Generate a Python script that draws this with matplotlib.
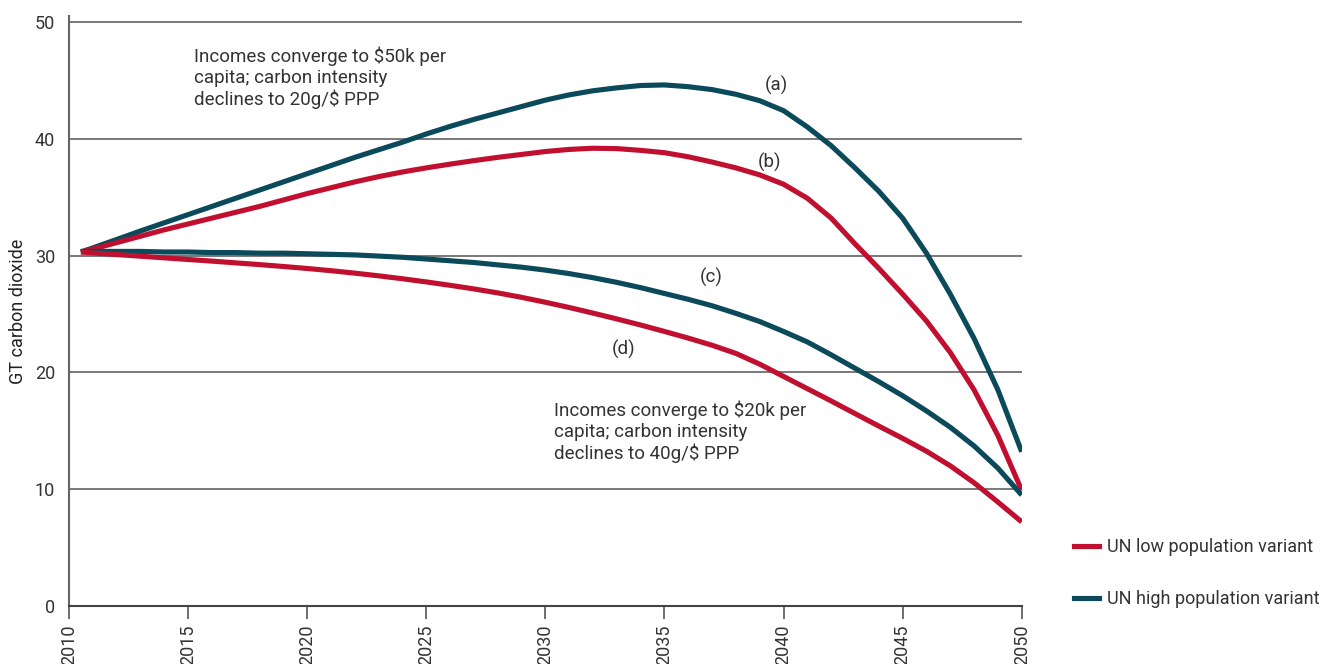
import matplotlib.pyplot as plt
from matplotlib.lines import Line2D

plt.rcParams['font.family'] = ['Roboto', 'DejaVu Sans']

red = '#c1102f'
teal = '#0b4a5a'

years = [2010.5] + list(range(2011, 2051))

# (a) high population, $50k / 20g
a_high = [30.3,
          30.65, 31.37, 32.1, 32.8, 33.5, 34.2, 34.9, 35.6, 36.3, 37.0,
          37.7, 38.4, 39.05, 39.7, 40.4, 41.05, 41.65, 42.2, 42.75, 43.3,
          43.75, 44.1, 44.35, 44.55, 44.6, 44.45, 44.2, 43.8, 43.25, 42.4,
          41.0, 39.4, 37.5, 35.5, 33.2, 30.2, 26.7, 22.9, 18.5, 13.2]
# (b) low population, $50k / 20g
b_low = [30.3,
         30.55, 31.1, 31.65, 32.2, 32.7, 33.2, 33.7, 34.2, 34.75, 35.3,
         35.8, 36.3, 36.75, 37.15, 37.5, 37.82, 38.12, 38.4, 38.65, 38.9,
         39.08, 39.18, 39.15, 39.0, 38.8, 38.45, 38.0, 37.5, 36.9, 36.1,
         34.9, 33.2, 31.0, 28.9, 26.7, 24.4, 21.7, 18.5, 14.6, 9.9]
# (c) high population, $20k / 40g
c_high = [30.35,
          30.35, 30.35, 30.35, 30.3, 30.3, 30.25, 30.25, 30.2, 30.2, 30.15,
          30.1, 30.05, 29.95, 29.85, 29.7, 29.55, 29.4, 29.2, 29.0, 28.75,
          28.45, 28.1, 27.7, 27.25, 26.75, 26.25, 25.7, 25.05, 24.35, 23.5,
          22.6, 21.5, 20.35, 19.2, 18.0, 16.7, 15.3, 13.7, 11.8, 9.5]
# (d) low population, $20k / 40g
d_low = [30.3,
         30.22, 30.08, 29.94, 29.8, 29.66, 29.52, 29.37, 29.22, 29.06, 28.89,
         28.7, 28.49, 28.26, 28.01, 27.74, 27.45, 27.14, 26.8, 26.42, 26.0,
         25.55, 25.07, 24.57, 24.05, 23.5, 22.93, 22.32, 21.62, 20.7, 19.65,
         18.6, 17.55, 16.47, 15.4, 14.35, 13.25, 12.0, 10.55, 8.9, 7.2]

fig = plt.figure(figsize=(13.38, 6.64), dpi=100)
ax = fig.add_axes([69 / 1338, 58 / 664, 952.7 / 1338, 590 / 664])

lw = 3.7
for ys, c in [(a_high, teal), (b_low, red), (c_high, teal), (d_low, red)]:
    ax.plot(years, ys, color=c, lw=lw, solid_capstyle='butt',
            solid_joinstyle='round', zorder=3)

ax.set_xlim(2010, 2050)
ax.set_ylim(0, 50.5)
ax.set_xticks(range(2010, 2051, 5))
ax.set_yticks(range(0, 51, 10))
ax.tick_params(axis='x', length=9, width=1.2, color='#555555', direction='out',
               labelrotation=90, labelsize=13, labelcolor='#333333', pad=4)
ax.tick_params(axis='y', length=0, labelsize=13, labelcolor='#333333', pad=10)
for lab in ax.get_xticklabels():
    lab.set_verticalalignment('top')

for v in range(10, 51, 10):
    ax.axhline(v, color='#555555', lw=1.1, zorder=1)

for s in ['top', 'right']:
    ax.spines[s].set_visible(False)
ax.spines['left'].set_color('#666666')
ax.spines['left'].set_linewidth(1.5)
ax.spines['bottom'].set_color('#444444')
ax.spines['bottom'].set_linewidth(1.5)

ax.set_ylabel('GT carbon dioxide', fontsize=13, color='#222222', labelpad=6)

txt = dict(fontsize=13.5, color='#333333', linespacing=1.2)
ax.text(2015.26, 47.9, 'Incomes converge to $50k per\ncapita; carbon intensity\ndeclines to 20g/$ PPP',
        va='top', ha='left', **txt)
ax.text(2030.37, 17.6, 'Incomes converge to $20k per\ncapita; carbon intensity\ndeclines to 40g/$ PPP',
        va='top', ha='left', **txt)

ax.text(2039.7, 44.6, '(a)', ha='center', va='center', **txt)
ax.text(2039.4, 38.0, '(b)', ha='center', va='center', **txt)
ax.text(2036.95, 28.1, '(c)', ha='center', va='center', **txt)
ax.text(2033.3, 22.0, '(d)', ha='center', va='center', **txt)

handles = [Line2D([], [], color=red, lw=lw), Line2D([], [], color=teal, lw=lw)]
labels = ['UN low population variant', 'UN high population variant']
fig.legend(handles, labels, loc='center left', bbox_to_anchor=(1058 / 1338, 1 - 573 / 664),
           frameon=False, fontsize=13, labelcolor='#333333', handlelength=1.35,
           handletextpad=0.45, labelspacing=1.9)

fig.savefig('out.png', dpi=100)
